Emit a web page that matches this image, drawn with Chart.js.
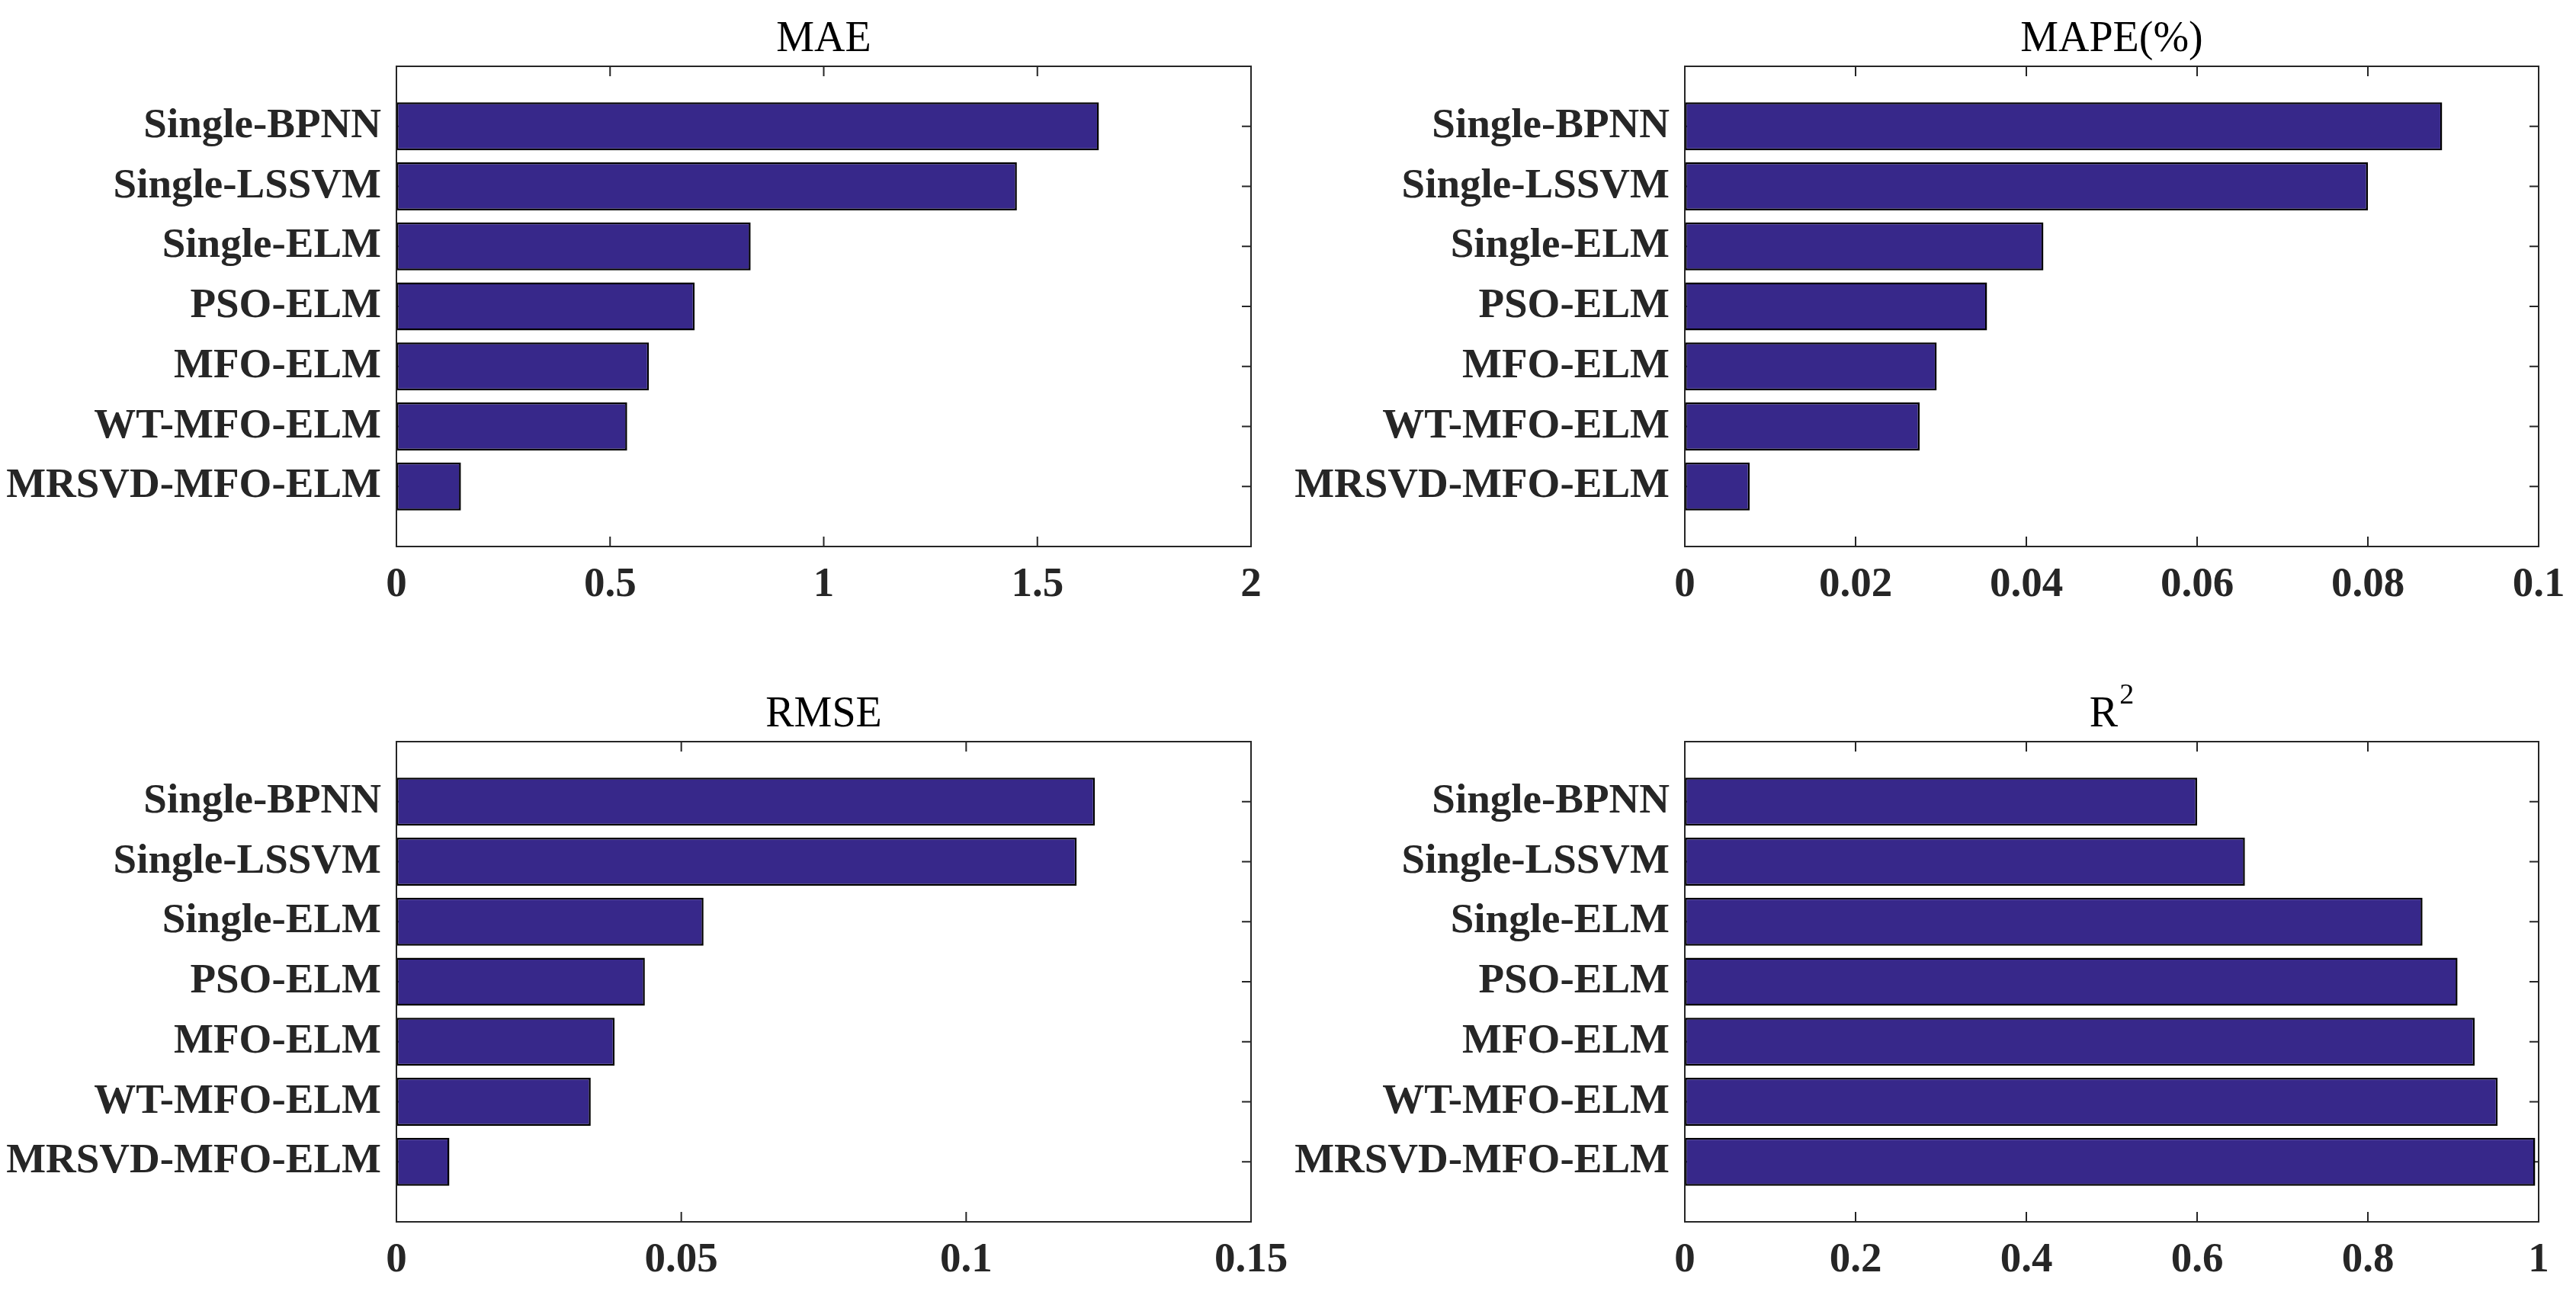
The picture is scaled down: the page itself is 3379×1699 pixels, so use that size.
<!DOCTYPE html>
<html>
<head>
<meta charset="utf-8">
<script src="https://cdn.jsdelivr.net/npm/chart.js@4.4.1/dist/chart.umd.min.js"></script>
<style>
  html, body { margin: 0; padding: 0; background: #fff; }
  #wrap { position: relative; width: 3379px; height: 1699px; }
  canvas { position: absolute; }
</style>
</head>
<body>
<div id="wrap">
  <canvas id="c-mae"  width="1690" height="850" style="left:0;top:0"></canvas>
  <canvas id="c-mape" width="1689" height="850" style="left:1690px;top:0"></canvas>
  <canvas id="c-rmse" width="1690" height="849" style="left:0;top:850px"></canvas>
  <canvas id="c-r2"   width="1689" height="849" style="left:1690px;top:850px"></canvas>
</div>
<script>
// models, top to bottom
const categories = ['Single-BPNN', 'Single-LSSVM', 'Single-ELM', 'PSO-ELM', 'MFO-ELM', 'WT-MFO-ELM', 'MRSVD-MFO-ELM'];

const maeValues  = [1.644, 1.452, 0.829, 0.698, 0.591, 0.540, 0.151];
const mapeValues = [0.0887, 0.0800, 0.0420, 0.0354, 0.0295, 0.0275, 0.0076];
const rmseValues = [0.1226, 0.1194, 0.0539, 0.0436, 0.0383, 0.0341, 0.0093];
const r2Values   = [0.600, 0.656, 0.864, 0.905, 0.925, 0.952, 0.996];

const maeTicks  = [0, 0.5, 1, 1.5, 2];
const mapeTicks = [0, 0.02, 0.04, 0.06, 0.08, 0.1];
const rmseTicks = [0, 0.05, 0.1, 0.15];
const r2Ticks   = [0, 0.2, 0.4, 0.6, 0.8, 1];

const FONT = "'Liberation Serif', 'Times New Roman', serif";
const INK = '#262626';
const BAR = '#37288a';

// matlab style box, inward ticks and title
const boxPlugin = {
    id: 'box',
    beforeDatasetsDraw: (chart) => {
        const { ctx, chartArea: a, scales: { x, y } } = chart;
        ctx.save();
        ctx.strokeStyle = INK;
        ctx.lineWidth = 2;
        ctx.beginPath();
        x.ticks.forEach(t => {
            const px = x.getPixelForValue(t.value);
            ctx.moveTo(px, a.bottom); ctx.lineTo(px, a.bottom - 13);
            ctx.moveTo(px, a.top); ctx.lineTo(px, a.top + 13);
        });
        y.ticks.forEach(t => {
            const py = y.getPixelForValue(t.value);
            ctx.moveTo(a.left, py); ctx.lineTo(a.left + 12, py);
            ctx.moveTo(a.right, py); ctx.lineTo(a.right - 12, py);
        });
        ctx.stroke();
        ctx.restore();
    },
    afterDatasetsDraw: (chart, args, opts) => {
        const { ctx, chartArea: a } = chart;
        ctx.save();
        ctx.strokeStyle = INK;
        ctx.lineWidth = 2;
        ctx.strokeRect(a.left, a.top, a.right - a.left, a.bottom - a.top);

        // title, centred over the axes
        ctx.fillStyle = '#000';
        ctx.textBaseline = 'alphabetic';
        ctx.textAlign = 'left';
        ctx.font = `56px ${FONT}`;
        const w1 = ctx.measureText(opts.title).width;
        ctx.font = `38px ${FONT}`;
        const w2 = opts.sup ? ctx.measureText(opts.sup).width + 2 : 0;
        const x0 = (a.left + a.right) / 2 - (w1 + w2) / 2;
        const base = a.top - 20;
        ctx.font = `56px ${FONT}`;
        ctx.fillText(opts.title, x0, base);
        if (opts.sup) {
            ctx.font = `38px ${FONT}`;
            ctx.fillText(opts.sup, x0 + w1 + 2, base - 30);
        }
        ctx.restore();
    }
};

const makePanel = (id, values, ticks, title, sup, top, bottomH) => {
    const tickFont = { family: FONT, size: 55, weight: 'bold', lineHeight: 1.2 };
    return new Chart(document.getElementById(id), {
        type: 'bar',
        data: {
            datasets: [{
                data: values.map((v, i) => ({ x: v, y: i + 1 })),
                backgroundColor: BAR,
                borderColor: '#000',
                borderWidth: 2.5,
                borderSkipped: false,
                barPercentage: 0.8,
                categoryPercentage: 1
            }]
        },
        options: {
            indexAxis: 'y',
            responsive: false,
            animation: false,
            devicePixelRatio: 1,
            layout: { padding: { top: top, right: 49, left: 0, bottom: 0 } },
            plugins: {
                legend: { display: false },
                tooltip: { enabled: false },
                box: { title: title, sup: sup }
            },
            scales: {
                x: {
                    type: 'linear',
                    offset: false,
                    min: ticks[0],
                    max: ticks[ticks.length - 1],
                    afterBuildTicks: s => { s.ticks = ticks.map(v => ({ value: v })); },
                    afterFit: s => { s.height = bottomH; s.paddingLeft = 0; s.paddingRight = 0; },
                    grid: { display: false, drawTicks: false, offset: false },
                    border: { display: false },
                    ticks: { autoSkip: false, maxRotation: 0, padding: 18, color: INK, font: tickFont, callback: v => String(v) }
                },
                y: {
                    type: 'linear',
                    offset: false,
                    min: 0,
                    max: 8,
                    reverse: true,
                    afterBuildTicks: s => { s.ticks = categories.map((c, i) => ({ value: i + 1 })); },
                    afterFit: s => { s.width = 520; s.paddingTop = 0; s.paddingBottom = 0; },
                    grid: { display: false, drawTicks: false, offset: false },
                    border: { display: false },
                    ticks: { autoSkip: false, padding: 20, color: INK, font: tickFont, callback: v => categories[v - 1] || '' }
                }
            }
        },
        plugins: [boxPlugin]
    });
};

makePanel('c-mae',  maeValues,  maeTicks,  'MAE',     '',  87,  133);
makePanel('c-mape', mapeValues, mapeTicks, 'MAPE(%)', '',  87,  133);
makePanel('c-rmse', rmseValues, rmseTicks, 'RMSE',    '',  123, 96);
makePanel('c-r2',   r2Values,   r2Ticks,   'R',       '2', 123, 96);
</script>
</body>
</html>
